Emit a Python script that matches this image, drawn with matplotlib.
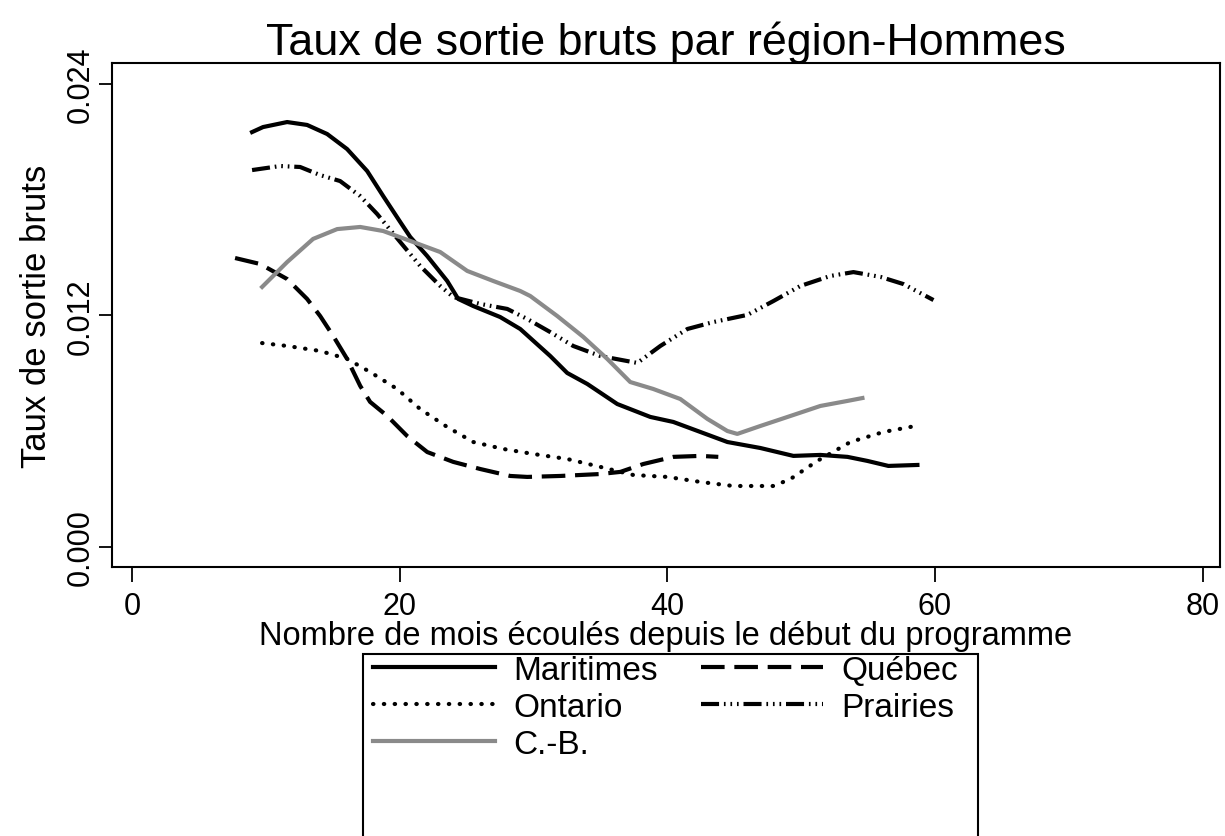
import matplotlib
matplotlib.use("Agg")
import matplotlib.pyplot as plt
from matplotlib.patches import Rectangle

plt.rcParams['font.family'] = ['Liberation Sans', 'DejaVu Sans']
plt.rcParams['lines.scale_dashes'] = False

# months since start of programme / raw exit rates
mar_x = [8.97, 9.79, 11.59, 13.08, 14.58, 16.07, 17.57, 18.77, 20.04, 20.79, 22.06, 23.55, 24.37,
         25.50, 27.51, 29.01, 31.25, 32.52, 34.02, 36.26, 38.73, 40.45, 42.47, 44.49, 46.95,
         49.42, 51.44, 53.46, 54.95, 56.52, 58.69]
mar_y = [0.02151, 0.02177, 0.02203, 0.02188, 0.02141, 0.02063, 0.01949, 0.01819, 0.01685, 0.01607,
         0.01508, 0.01379, 0.01286, 0.01249, 0.01192, 0.01130, 0.00990, 0.00902, 0.00845, 0.00741,
         0.00674, 0.00648, 0.00596, 0.00544, 0.00513, 0.00472, 0.00477, 0.00467, 0.00446, 0.00420,
         0.00425]

que_x = [7.70, 9.57, 11.59, 13.08, 14.06, 15.03, 16.07, 17.05, 17.79, 19.07, 20.56, 22.06, 24.00,
         26.02, 28.26, 29.53, 32.00, 34.99, 36.49, 38.21, 40.45, 42.47, 43.81]
que_y = [0.01498, 0.01467, 0.01389, 0.01286, 0.01197, 0.01094, 0.00975, 0.00835, 0.00752, 0.00679,
         0.00575, 0.00492, 0.00441, 0.00404, 0.00368, 0.00363, 0.00368, 0.00378, 0.00389, 0.00430,
         0.00467, 0.00472, 0.00467]

ont_x = [9.72, 11.59, 14.06, 16.07, 17.79, 19.81, 21.53, 23.55, 25.50, 27.74, 29.98, 32.52, 34.99,
         37.46, 40.00, 42.47, 44.93, 47.93, 49.20, 51.21, 53.68, 56.15, 58.54]
ont_y = [0.01057, 0.01042, 0.01016, 0.00975, 0.00907, 0.00819, 0.00715, 0.00622, 0.00544, 0.00508,
         0.00482, 0.00456, 0.00415, 0.00373, 0.00363, 0.00337, 0.00316, 0.00316, 0.00352, 0.00446,
         0.00544, 0.00596, 0.00627]

pra_x = [8.97, 11.07, 12.56, 14.06, 15.55, 17.05, 18.32, 20.04, 21.53, 23.03, 24.00, 26.02, 28.04,
         29.53, 31.25, 32.97, 34.99, 37.76, 39.48, 41.50, 43.44, 45.98, 47.93, 49.94, 52.19, 53.91,
         55.93, 57.64, 59.89]
pra_y = [0.01954, 0.01975, 0.01970, 0.01928, 0.01897, 0.01819, 0.01726, 0.01581, 0.01457, 0.01353,
         0.01296, 0.01260, 0.01234, 0.01182, 0.01114, 0.01042, 0.00990, 0.00954, 0.01042, 0.01130,
         0.01166, 0.01203, 0.01275, 0.01353, 0.01405, 0.01425, 0.01400, 0.01363, 0.01280]

cb_x = [9.72, 11.59, 13.53, 15.33, 17.05, 18.77, 21.01, 23.03, 25.05, 26.99, 29.01, 29.76, 31.78,
        33.72, 35.51, 37.23, 38.95, 40.97, 42.99, 44.49, 45.23, 46.95, 49.20, 51.44, 53.46, 54.58]
cb_y = [0.01348, 0.01477, 0.01597, 0.01648, 0.01659, 0.01638, 0.01581, 0.01529, 0.01431, 0.01379,
        0.01327, 0.01301, 0.01197, 0.01089, 0.00975, 0.00855, 0.00819, 0.00767, 0.00664, 0.00601,
        0.00586, 0.00627, 0.00679, 0.00731, 0.00757, 0.00772]

xticks = [0, 20, 40, 60, 80]
yticks = [0.000, 0.012, 0.024]

fig = plt.figure(figsize=(12.25, 8.37), dpi=100)
ax = fig.add_axes([0.0914, 0.3214, 0.9045, 0.6021])

lw = 3.0
l_mar, = ax.plot(mar_x, mar_y, color="black", lw=lw, label="Maritimes")
l_que, = ax.plot(que_x, que_y, color="black", lw=lw, dashes=(17, 7), label="Québec")
l_ont, = ax.plot(ont_x, ont_y, color="black", lw=lw, dashes=(0.3, 7.5),
                 dash_capstyle="round", label="Ontario")
l_pra, = ax.plot(pra_x, pra_y, color="black", lw=lw, dashes=(13, 3.5, 1.2, 3.5, 1.2, 3.5, 1.2, 3.5),
                 label="Prairies")
l_cb, = ax.plot(cb_x, cb_y, color="#8a8a8a", lw=lw, label="C.-B.")

ax.set_xlim(-1.5, 81.3)
ax.set_ylim(-0.00104, 0.02509)
ax.set_xticks(xticks)
ax.set_yticks(yticks)
ax.set_yticklabels(["%.3f" % v for v in yticks], rotation=90, va="center")
ax.tick_params(direction="out", width=1.3, labelsize=22)
ax.tick_params(axis="y", length=9.4, pad=2.5)
ax.tick_params(axis="x", length=10.8, pad=6.5)
for s in ax.spines.values():
    s.set_linewidth(1.5)

ax.set_title("Taux de sortie bruts par région-Hommes", fontsize=32.3, pad=6)
ax.set_xlabel("Nombre de mois écoulés depuis le début du programme", fontsize=23.5, labelpad=-1)
ax.set_ylabel("Taux de sortie bruts", fontsize=25, labelpad=9)

# legend box runs off the bottom edge, as in the original
W, H = 1225.0, 837.0
box_top = 655
fig.patches.append(Rectangle((363 / W, -0.05), (978 - 363) / W, (H - box_top) / H + 0.05,
                             transform=fig.transFigure, fill=False, edgecolor="black",
                             linewidth=1.5, clip_on=False))
leg = fig.legend([l_mar, l_ont, l_cb, l_que, l_pra],
                 ["Maritimes", "Ontario", "C.-B.", "Québec", "Prairies"],
                 ncol=2, loc="upper left", bbox_to_anchor=(373 / W, (H - box_top - 1) / H),
                 borderaxespad=0, fontsize=24, handlelength=3.66, handletextpad=0.55,
                 columnspacing=1.3, labelspacing=0.18, borderpad=0, frameon=False)

fig.savefig("out.png", dpi=100)
plt.close()
